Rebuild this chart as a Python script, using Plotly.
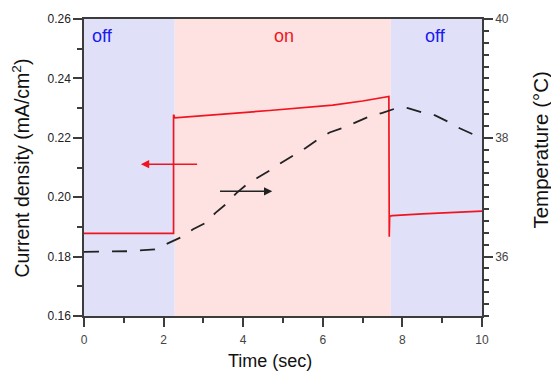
import plotly.graph_objects as go

# ---------------- data ----------------
# current density (left axis, mA/cm^2)
time_current = [0.0, 2.25, 2.25, 2.28, 4.66, 5.92, 6.25, 7.0, 7.66, 7.67, 7.68, 7.75, 8.5, 10.0]
current = [0.1878, 0.1878, 0.2278, 0.2267, 0.2292, 0.2307, 0.2310, 0.2324, 0.2339, 0.1867, 0.1936, 0.1938, 0.1944, 0.1953]

# temperature (right axis, degC)
time_temp = [0.0, 1.1, 1.78, 2.14, 2.45, 2.74, 3.03, 3.31, 3.56, 3.83, 4.08, 4.37, 4.67, 4.98,
             5.29, 5.57, 5.85, 6.17, 6.51, 6.83, 7.14, 7.50, 7.81, 7.98, 8.14, 8.48, 8.81,
             9.15, 9.44, 9.77, 10.0]
temperature = [36.08, 36.09, 36.12, 36.24, 36.33, 36.46, 36.56, 36.74, 36.88, 37.07, 37.21, 37.33,
               37.45, 37.59, 37.71, 37.83, 37.96, 38.09, 38.17, 38.26, 38.35, 38.42, 38.49, 38.51,
               38.50, 38.43, 38.38, 38.27, 38.16, 38.06, 37.99]

# heater phases
phase_start = [0.0, 2.28, 7.71]
phase_end = [2.28, 7.71, 10.0]
phase_label = ["off", "on", "off"]
phase_label_x = [0.47, 5.02, 8.84]

# arrows pointing to the relevant axis (left-axis coordinates)
arrow_current_from = (2.88, 0.2111)
arrow_current_to = (1.43, 0.2111)
arrow_temp_from = (3.38, 0.2020)
arrow_temp_to = (4.73, 0.2020)

# axis ranges / ticks
x_range = [0, 10]
y_range = [0.16, 0.26]
y2_range = [35, 40]

# ---------------- styles ----------------
RED = "rgb(240,20,30)"
BLUE = "rgb(25,25,240)"
phase_fill = {"off": "rgb(224,224,249)", "on": "rgb(254,226,226)"}
phase_text = {"off": BLUE, "on": RED}
AXIS = "#3c3c3c"
FONT = "Liberation Sans, Arial, sans-serif"

fig = go.Figure()

fig.add_trace(go.Scatter(
    x=time_current, y=current, mode="lines",
    line=dict(color=RED, width=1.7), yaxis="y", showlegend=False))

fig.add_trace(go.Scatter(
    x=time_temp, y=temperature, mode="lines",
    line=dict(color="#222222", width=1.8, dash="15px,13px"), yaxis="y2", showlegend=False))

shapes = []
for s, e, lab in zip(phase_start, phase_end, phase_label):
    shapes.append(dict(type="rect", xref="x", yref="paper", x0=s, x1=e, y0=0, y1=1,
                       fillcolor=phase_fill[lab], line=dict(width=0), layer="below"))

annotations = []
for lx, lab in zip(phase_label_x, phase_label):
    annotations.append(dict(x=lx, y=0.943, xref="x", yref="paper", text=lab, showarrow=False,
                            font=dict(size=18, color=phase_text[lab], family=FONT),
                            xanchor="center", yanchor="middle"))

annotations.append(dict(x=arrow_current_to[0], y=arrow_current_to[1], xref="x", yref="y",
                        ax=arrow_current_from[0], ay=arrow_current_from[1], axref="x", ayref="y",
                        text="", showarrow=True, arrowhead=2, arrowsize=1.1, arrowwidth=1.5,
                        arrowcolor=RED))
annotations.append(dict(x=arrow_temp_to[0], y=arrow_temp_to[1], xref="x", yref="y",
                        ax=arrow_temp_from[0], ay=arrow_temp_from[1], axref="x", ayref="y",
                        text="", showarrow=True, arrowhead=2, arrowsize=1.1, arrowwidth=1.5,
                        arrowcolor="#222222"))

# axis titles
annotations.append(dict(x=0.467, y=-0.15, xref="paper", yref="paper", text="Time (sec)",
                        showarrow=False, font=dict(size=18, color="#111", family=FONT),
                        xanchor="center", yanchor="middle"))
annotations.append(dict(x=-0.158, y=0.497, xref="paper", yref="paper",
                        text="Current density (mA/cm<sup>2</sup>)", textangle=-90,
                        showarrow=False, font=dict(size=19.5, color="#111", family=FONT),
                        xanchor="center", yanchor="middle"))
annotations.append(dict(x=1.148, y=0.56, xref="paper", yref="paper",
                        text="Temperature (°C)", textangle=-90,
                        showarrow=False, font=dict(size=20.5, color="#111", family=FONT),
                        xanchor="center", yanchor="middle"))

fig.update_layout(
    width=551, height=372,
    margin=dict(l=84, r=69, t=16, b=56),
    paper_bgcolor="white", plot_bgcolor="white",
    font=dict(family=FONT, size=12, color="#333"),
    shapes=shapes, annotations=annotations,
    xaxis=dict(range=x_range, dtick=2, tick0=0, showgrid=False, zeroline=False,
               showline=True, linecolor=AXIS, linewidth=1.5, mirror=True,
               ticks="outside", ticklen=9, tickwidth=1.5, tickcolor=AXIS,
               tickfont=dict(size=12, color="#444"), ticklabelstandoff=3,
               minor=dict(dtick=1, ticklen=5, tickwidth=1.5, tickcolor=AXIS, ticks="outside")),
    yaxis=dict(range=y_range, dtick=0.02, tick0=0.16, tickformat=".2f", showgrid=False,
               zeroline=False, showline=True, linecolor=AXIS, linewidth=1.5,
               ticks="outside", ticklen=9, tickwidth=1.5, tickcolor=AXIS,
               tickfont=dict(size=12, color="#222"),
               minor=dict(dtick=0.01, ticklen=5, tickwidth=1.5, tickcolor=AXIS, ticks="outside")),
    yaxis2=dict(range=y2_range, dtick=2, tick0=36, overlaying="y", side="right",
                showgrid=False, zeroline=False, showline=True, linecolor=AXIS, linewidth=1.5,
                ticks="outside", ticklen=9, tickwidth=1.5, tickcolor=AXIS,
                tickfont=dict(size=12, color="#444"),
                minor=dict(dtick=0.2, tick0=35, ticklen=5, tickwidth=1.5, tickcolor=AXIS,
                           ticks="outside")),
)

fig.write_html("out.html", config={"displayModeBar": False},
               post_script="document.body.style.margin='0';document.body.style.padding='0';")
